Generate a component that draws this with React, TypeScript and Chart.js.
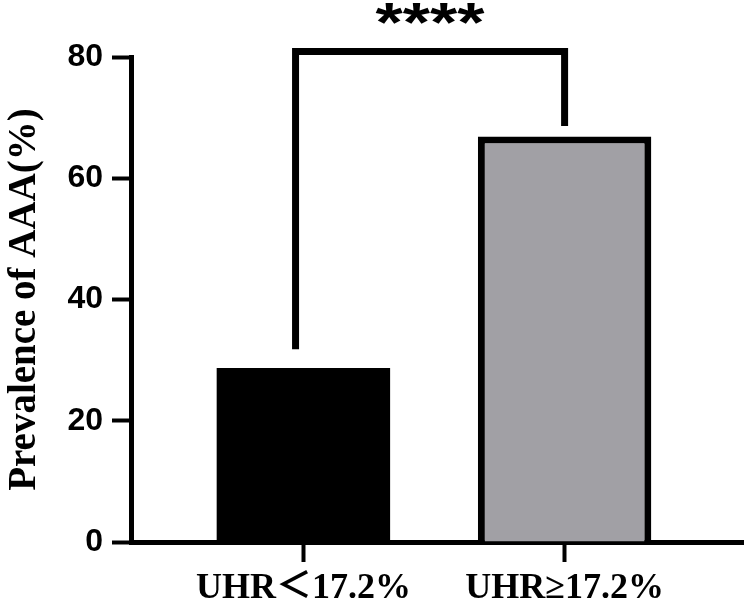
import React, { useEffect, useRef } from 'react';
import { Chart, registerables } from 'chart.js';

Chart.register(...registerables);

// groups and their prevalence values (%)
const groups = ['UHR＜17.2%', 'UHR≥17.2%'];
const groupPos = [0, 1];
const prevalence = [28.7, 66.9];
const barColors = ['#000000', '#a1a0a5'];
const barBorders = [0, 7];
const yTicks = [0, 20, 40, 60, 80];

// significance bracket: x positions (group units) and heights (%)
const bracketX = [-0.03, 1];
const bracketLegBottom = [31.8, 68.6];
const bracketTop = 80.9;
const sigLabel = '****';

const SERIF = "'Liberation Serif', 'Times New Roman', 'Noto Sans CJK SC', serif";
const SANS = "'Liberation Sans', Arial, sans-serif";

const bracketPlugin = {
  id: 'sigBracket',
  afterDraw(chart: Chart) {
    const { ctx } = chart;
    const x = chart.scales.x;
    const y = chart.scales.y;
    const xl = x.getPixelForValue(bracketX[0]);
    const xr = x.getPixelForValue(bracketX[1]);
    const yt = y.getPixelForValue(bracketTop);
    ctx.save();
    ctx.strokeStyle = '#000';
    ctx.lineWidth = 7;
    ctx.lineJoin = 'miter';
    ctx.lineCap = 'butt';
    ctx.beginPath();
    ctx.moveTo(xl, y.getPixelForValue(bracketLegBottom[0]));
    ctx.lineTo(xl, yt);
    ctx.lineTo(xr, yt);
    ctx.lineTo(xr, y.getPixelForValue(bracketLegBottom[1]));
    ctx.stroke();
    // stars: squatter than the font's asterisk, so widen a little
    ctx.translate((xl + xr) / 2, yt - 11);
    ctx.scale(1.25, 1);
    ctx.fillStyle = '#000';
    ctx.font = `bold 56px ${SANS}`;
    ctx.textAlign = 'center';
    ctx.textBaseline = 'alphabetic';
    ctx.fillText(sigLabel, 0, 0);
    ctx.restore();
  },
};

const App: React.FC = () => {
  const chartRef = useRef<HTMLCanvasElement>(null);
  const chartInstance = useRef<Chart | null>(null);

  useEffect(() => {
    if (!chartRef.current) return;
    const ctx = chartRef.current.getContext('2d');
    if (!ctx) return;
    if (chartInstance.current) chartInstance.current.destroy();

    chartInstance.current = new Chart(ctx, {
      type: 'bar',
      data: {
        datasets: [
          {
            data: groupPos.map((g, i) => ({ x: g, y: prevalence[i] })),
            backgroundColor: barColors,
            borderColor: '#000000',
            borderWidth: barBorders,
            borderSkipped: 'start',
            categoryPercentage: 1,
            barPercentage: 0.664,
          },
        ],
      },
      options: {
        responsive: false,
        animation: false,
        layout: { padding: { top: 57, right: 7, left: 0, bottom: 0 } },
        plugins: {
          legend: { display: false },
          tooltip: { enabled: false },
        },
        scales: {
          x: {
            type: 'linear',
            min: -0.66,
            max: 1.683,
            offset: false,
            z: 1,
            afterBuildTicks: (scale: any) => {
              scale.ticks = groupPos.map((v) => ({ value: v }));
            },
            afterFit: (scale: any) => {
              scale.height = 66;
            },
            grid: {
              offset: false,
              drawOnChartArea: false,
              drawTicks: true,
              tickLength: 20,
              tickWidth: 4,
              tickColor: '#000',
            },
            border: { display: true, color: '#000', width: 5 },
            ticks: {
              autoSkip: false,
              maxRotation: 0,
              padding: 5,
              color: '#000',
              font: { family: SERIF, size: 36, weight: 'bold' },
              callback: (v: any) => groups[groupPos.indexOf(Number(v))] ?? '',
            },
          },
          y: {
            min: 0,
            max: 80,
            z: 1,
            afterBuildTicks: (scale: any) => {
              scale.ticks = yTicks.map((v) => ({ value: v }));
            },
            afterFit: (scale: any) => {
              scale.width = 131;
            },
            grid: {
              drawOnChartArea: false,
              drawTicks: true,
              tickLength: 19,
              tickWidth: 4,
              tickColor: '#000',
            },
            border: { display: true, color: '#000', width: 5 },
            ticks: {
              padding: 9,
              color: '#000',
              font: { family: SANS, size: 32, weight: 'bold' },
            },
            title: {
              display: true,
              text: 'Prevalence of AAA(%)',
              color: '#000',
              padding: { top: 2, bottom: 0 },
              font: { family: SERIF, size: 39, weight: 'bold' },
            },
          },
        },
      },
      plugins: [bracketPlugin],
    });

    return () => {
      if (chartInstance.current) {
        chartInstance.current.destroy();
        chartInstance.current = null;
      }
    };
  }, []);

  return (
    <div style={{ position: 'fixed', left: 0, top: 0, width: 750, height: 608, background: '#fff' }}>
      <canvas ref={chartRef} width={750} height={608} />
    </div>
  );
};

export default App;
